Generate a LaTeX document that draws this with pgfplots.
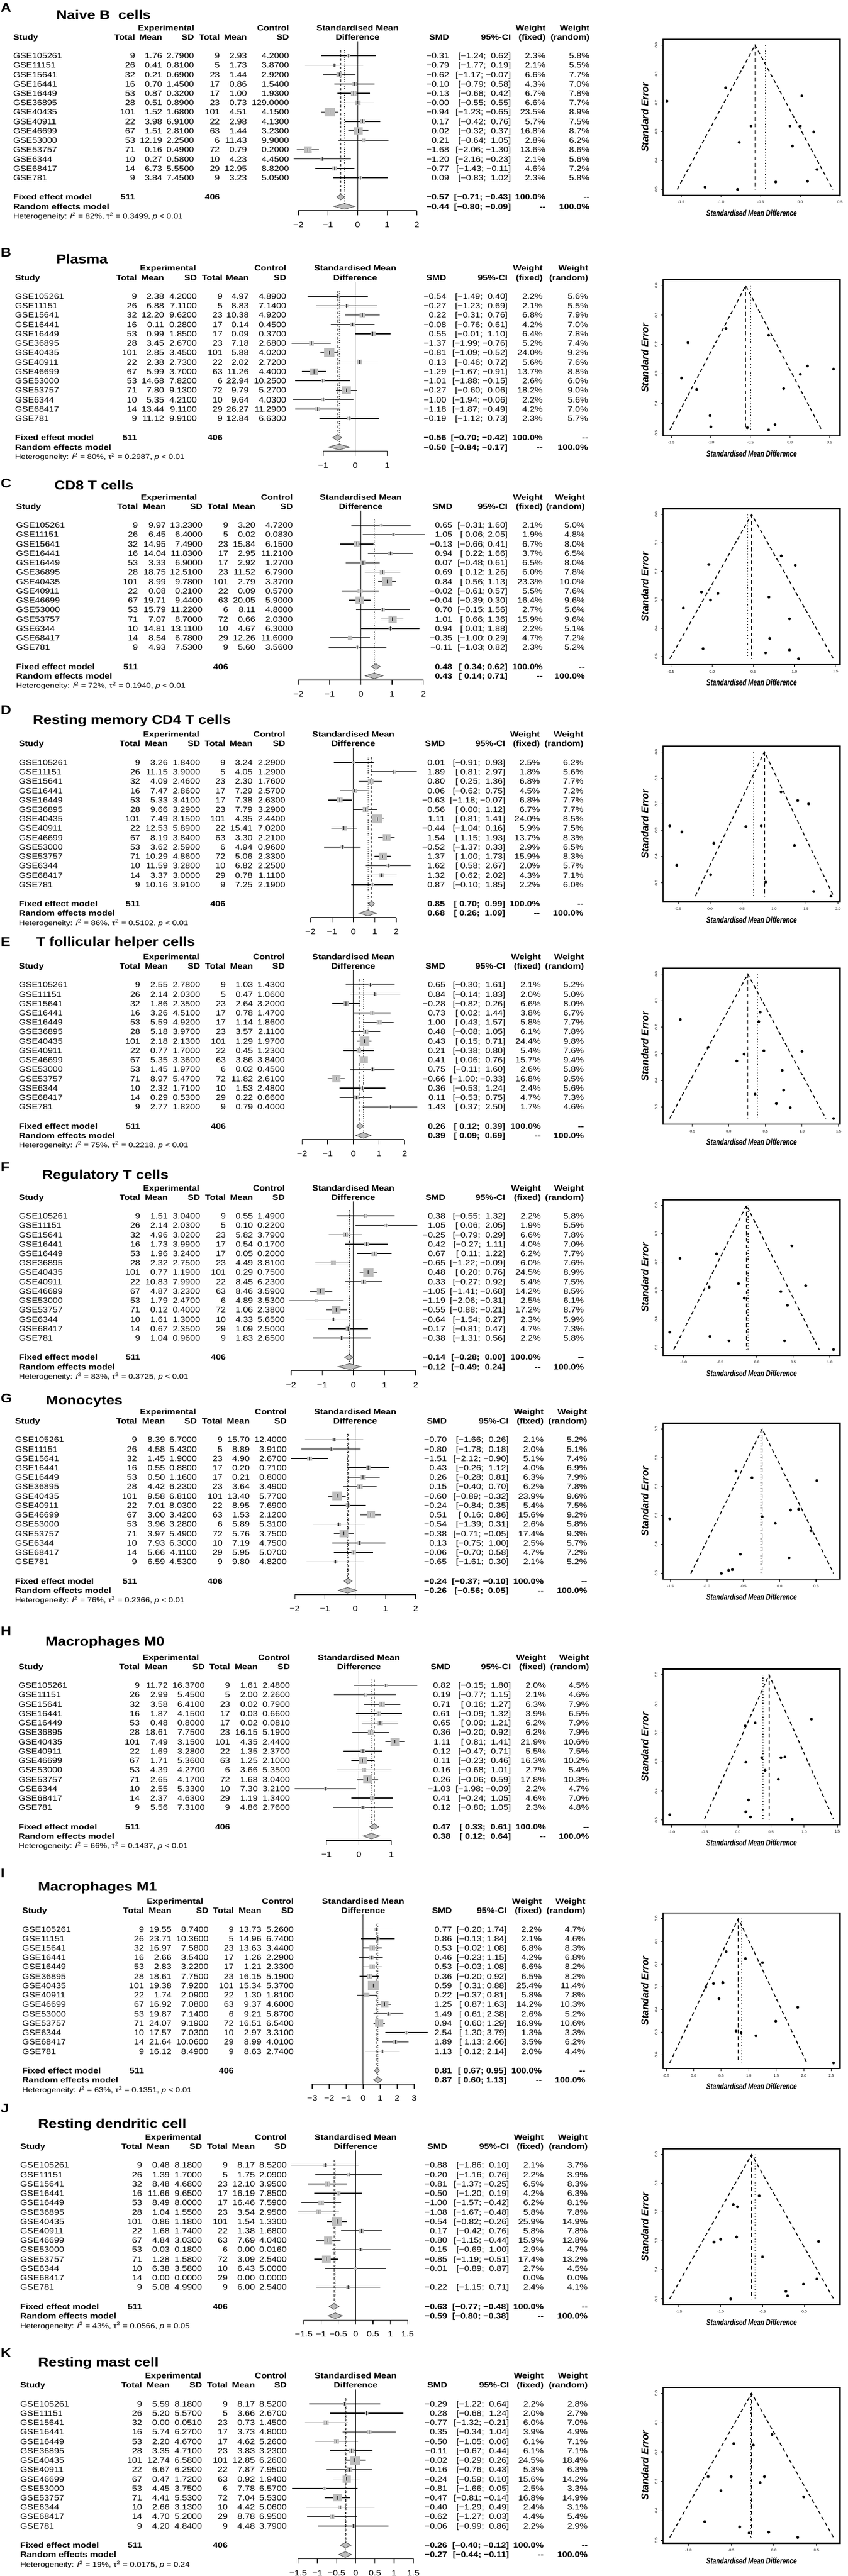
\documentclass[border=0pt]{standalone}
\usepackage{pgfplots}
\usepackage{pgfplotstable}
\pgfplotsset{compat=1.18}
\usepackage{fontspec}
\setmainfont{Liberation Sans}
\newfontfamily\wide[FakeStretch=1.16]{Liberation Sans}
\newfontfamily\narrow[FakeStretch=0.75]{Liberation Sans}

\definecolor{sqgray}{HTML}{BEBEBE}

\newcommand\rowfont{\wide\fontsize{8.25}{9.9}\selectfont}
\newcommand\hdfont{\wide\bfseries\fontsize{8.25}{9.9}\selectfont}
\newcommand\hetfont{\wide\fontsize{7.6}{9}\selectfont}
\newcommand\titfont{\wide\bfseries\fontsize{13.5}{16}\selectfont}
\newcommand\tickfont{\fontsize{4}{5}\selectfont}

% leading "-" of a value printed as a real minus; \fmtp pads positives with a space
\def\fmt#1{\expandafter\fmtA#1\relax}
\def\fmtA#1#2\relax{\ifx-#1\char"2212\relax#2\else#1#2\fi}
\def\fmtp#1{\expandafter\fmtpA#1\relax}
\def\fmtpA#1#2\relax{\ifx-#1\char"2212\relax#2\else\ #1#2\fi}
\def\fmth#1{\ifnum\padhi=1 \fmtp#1\else\fmt#1\fi}
\def\nanstr{nan}
\def\padhi{1}

\pgfplotstableread{
study n1 n2
GSE105261 9 9
GSE11151 26 5
GSE15641 32 23
GSE16441 16 17
GSE16449 53 17
GSE36895 28 23
GSE40435 101 101
GSE40911 22 22
GSE46699 67 63
GSE53000 53 6
GSE53757 71 72
GSE6344 10 10
GSE68417 14 29
GSE781 9 9
}\studies

% Naive B cells
\pgfplotstableread{
study m1 sd1 m2 sd2 smd lo hi wf wr
GSE105261 1.76 2.7900 2.93 4.2000 -0.31 -1.24 0.62 2.3 5.8
GSE11151 0.41 0.8100 1.73 3.8700 -0.79 -1.77 0.19 2.1 5.5
GSE15641 0.21 0.6900 1.44 2.9200 -0.62 -1.17 -0.07 6.6 7.7
GSE16441 0.70 1.4500 0.86 1.5400 -0.10 -0.79 0.58 4.3 7.0
GSE16449 0.87 0.3200 1.00 1.9300 -0.13 -0.68 0.42 6.7 7.8
GSE36895 0.51 0.8900 0.73 129.0000 -0.00 -0.55 0.55 6.6 7.7
GSE40435 1.52 1.6800 4.51 4.1500 -0.94 -1.23 -0.65 23.5 8.9
GSE40911 3.98 6.9100 2.98 4.1300 0.17 -0.42 0.76 5.7 7.5
GSE46699 1.51 2.8100 1.44 3.2300 0.02 -0.32 0.37 16.8 8.7
GSE53000 12.19 2.2500 11.43 9.9000 0.21 -0.64 1.05 2.8 6.2
GSE53757 0.16 0.4900 0.79 0.2000 -1.68 -2.06 -1.30 13.6 8.6
GSE6344 0.27 0.5800 4.23 4.4500 -1.20 -2.16 -0.23 2.1 5.6
GSE68417 6.73 5.5500 12.95 8.8200 -0.77 -1.43 -0.11 4.6 7.2
GSE781 3.84 7.4500 3.23 5.0500 0.09 -0.83 1.02 2.3 5.8
}\tabA

% Plasma
\pgfplotstableread{
study m1 sd1 m2 sd2 smd lo hi wf wr
GSE105261 2.38 4.2000 4.97 4.8900 -0.54 -1.49 0.40 2.2 5.6
GSE11151 6.88 7.1100 8.83 7.1400 -0.27 -1.23 0.69 2.1 5.5
GSE15641 12.20 9.6200 10.38 4.9200 0.22 -0.31 0.76 6.8 7.9
GSE16441 0.11 0.2800 0.14 0.4500 -0.08 -0.76 0.61 4.2 7.0
GSE16449 0.99 1.8500 0.09 0.3700 0.55 -0.01 1.10 6.4 7.8
GSE36895 3.45 2.6700 7.18 2.6800 -1.37 -1.99 -0.76 5.2 7.4
GSE40435 2.85 3.4500 5.88 4.0200 -0.81 -1.09 -0.52 24.0 9.2
GSE40911 2.38 2.7300 2.02 2.7200 0.13 -0.46 0.72 5.6 7.6
GSE46699 5.99 3.7000 11.26 4.4000 -1.29 -1.67 -0.91 13.7 8.8
GSE53000 14.68 7.8200 22.94 10.2500 -1.01 -1.88 -0.15 2.6 6.0
GSE53757 7.80 9.1300 9.79 5.2700 -0.27 -0.60 0.06 18.2 9.0
GSE6344 5.35 4.2100 9.64 4.0300 -1.00 -1.94 -0.06 2.2 5.6
GSE68417 13.44 9.1100 26.27 11.2900 -1.18 -1.87 -0.49 4.2 7.0
GSE781 11.12 9.9100 12.84 6.6300 -0.19 -1.12 0.73 2.3 5.7
}\tabB

% CD8 T cells
\pgfplotstableread{
study m1 sd1 m2 sd2 smd lo hi wf wr
GSE105261 9.97 13.2300 3.20 4.7200 0.65 -0.31 1.60 2.1 5.0
GSE11151 6.45 6.4000 0.02 0.0830 1.05 0.06 2.05 1.9 4.8
GSE15641 14.95 7.4900 15.84 6.1500 -0.13 -0.66 0.41 6.7 8.0
GSE16441 14.04 11.8300 2.95 11.2100 0.94 0.22 1.66 3.7 6.5
GSE16449 3.33 6.9000 2.92 1.2700 0.07 -0.48 0.61 6.5 8.0
GSE36895 18.75 12.5100 11.52 6.7900 0.69 0.12 1.26 6.0 7.8
GSE40435 8.99 9.7800 2.79 3.3700 0.84 0.56 1.13 23.3 10.0
GSE40911 0.08 0.2100 0.09 0.5700 -0.02 -0.61 0.57 5.5 7.6
GSE46699 19.71 9.4400 20.05 5.9000 -0.04 -0.39 0.30 16.4 9.6
GSE53000 15.79 11.2200 8.11 4.8000 0.70 -0.15 1.56 2.7 5.6
GSE53757 7.07 8.7000 0.66 2.0300 1.01 0.66 1.36 15.9 9.6
GSE6344 14.81 13.1100 4.67 6.3000 0.94 0.01 1.88 2.2 5.1
GSE68417 8.54 6.7800 12.26 11.6000 -0.35 -1.00 0.29 4.7 7.2
GSE781 4.93 7.5300 5.60 3.5600 -0.11 -1.03 0.82 2.3 5.2
}\tabC

% Resting memory CD4 T cells
\pgfplotstableread{
study m1 sd1 m2 sd2 smd lo hi wf wr
GSE105261 3.26 1.8400 3.24 2.2900 0.01 -0.91 0.93 2.5 6.2
GSE11151 11.15 3.9000 4.05 1.2900 1.89 0.81 2.97 1.8 5.6
GSE15641 4.09 2.4600 2.30 1.7600 0.80 0.25 1.36 6.8 7.7
GSE16441 7.47 2.8600 7.29 2.5700 0.06 -0.62 0.75 4.5 7.2
GSE16449 5.33 3.4100 7.38 2.6300 -0.63 -1.18 -0.07 6.8 7.7
GSE36895 9.66 3.2900 7.79 3.2900 0.56 0.00 1.12 6.7 7.7
GSE40435 7.49 3.1500 4.35 2.4400 1.11 0.81 1.41 24.0 8.5
GSE40911 12.53 5.8900 15.41 7.0200 -0.44 -1.04 0.16 5.9 7.5
GSE46699 8.19 3.8400 3.30 2.2100 1.54 1.15 1.93 13.7 8.3
GSE53000 3.62 2.5900 4.94 0.9600 -0.52 -1.37 0.33 2.9 6.5
GSE53757 10.29 4.8600 5.06 2.3300 1.37 1.00 1.73 15.9 8.3
GSE6344 11.59 3.2800 6.82 2.2500 1.62 0.58 2.67 2.0 5.7
GSE68417 3.37 3.0000 0.78 1.1100 1.32 0.62 2.02 4.3 7.1
GSE781 10.16 3.9100 7.25 2.1900 0.87 -0.10 1.85 2.2 6.0
}\tabD

% T follicular helper cells
\pgfplotstableread{
study m1 sd1 m2 sd2 smd lo hi wf wr
GSE105261 2.55 2.7800 1.03 1.4300 0.65 -0.30 1.61 2.1 5.2
GSE11151 2.14 2.0300 0.47 1.0600 0.84 -0.14 1.83 2.0 5.0
GSE15641 1.86 2.3500 2.64 3.2000 -0.28 -0.82 0.26 6.6 8.0
GSE16441 3.26 4.5100 0.78 1.4700 0.73 0.02 1.44 3.8 6.7
GSE16449 5.59 4.9200 1.14 1.8600 1.00 0.43 1.57 5.8 7.7
GSE36895 5.18 3.9700 3.57 2.1100 0.48 -0.08 1.05 6.1 7.8
GSE40435 2.18 2.1300 1.29 1.9700 0.43 0.15 0.71 24.4 9.8
GSE40911 0.77 1.7000 0.45 1.2300 0.21 -0.38 0.80 5.4 7.6
GSE46699 5.35 3.3600 3.86 3.8400 0.41 0.06 0.76 15.7 9.4
GSE53000 1.45 1.9700 0.02 0.4500 0.75 -0.11 1.60 2.6 5.8
GSE53757 8.97 5.4700 11.82 2.6100 -0.66 -1.00 -0.33 16.8 9.5
GSE6344 2.32 1.7100 1.53 2.4800 0.36 -0.53 1.24 2.4 5.6
GSE68417 0.29 0.5300 0.22 0.6600 0.11 -0.53 0.75 4.7 7.3
GSE781 2.77 1.8200 0.79 0.4000 1.43 0.37 2.50 1.7 4.6
}\tabE

% Regulatory T cells
\pgfplotstableread{
study m1 sd1 m2 sd2 smd lo hi wf wr
GSE105261 1.51 3.0400 0.55 1.4900 0.38 -0.55 1.32 2.2 5.8
GSE11151 2.14 2.0300 0.10 0.2200 1.05 0.06 2.05 1.9 5.5
GSE15641 4.96 3.0200 5.82 3.7900 -0.25 -0.79 0.29 6.6 7.8
GSE16441 1.73 3.9900 0.54 0.1700 0.42 -0.27 1.11 4.0 7.0
GSE16449 1.96 3.2400 0.05 0.2000 0.67 0.11 1.22 6.2 7.7
GSE36895 2.32 2.7500 4.49 3.8100 -0.65 -1.22 -0.09 6.0 7.6
GSE40435 0.77 1.1900 0.29 0.7500 0.48 0.20 0.76 24.5 8.9
GSE40911 10.83 7.9900 8.45 6.2300 0.33 -0.27 0.92 5.4 7.5
GSE46699 4.87 3.2300 8.46 3.5900 -1.05 -1.41 -0.68 14.2 8.5
GSE53000 1.79 2.4700 4.89 3.5300 -1.19 -2.06 -0.31 2.5 6.1
GSE53757 0.12 0.4000 1.06 2.3800 -0.55 -0.88 -0.21 17.2 8.7
GSE6344 1.61 1.3000 4.33 5.6500 -0.64 -1.54 0.27 2.3 5.9
GSE68417 0.67 2.3500 1.09 2.5000 -0.17 -0.81 0.47 4.7 7.3
GSE781 1.04 0.9600 1.83 2.6500 -0.38 -1.31 0.56 2.2 5.8
}\tabF

% Monocytes
\pgfplotstableread{
study m1 sd1 m2 sd2 smd lo hi wf wr
GSE105261 8.39 6.7000 15.70 12.4000 -0.70 -1.66 0.26 2.1 5.2
GSE11151 4.58 5.4300 8.89 3.9100 -0.80 -1.78 0.18 2.0 5.1
GSE15641 1.45 1.9000 4.90 2.6700 -1.51 -2.12 -0.90 5.1 7.4
GSE16441 0.55 0.8800 0.20 0.7100 0.43 -0.26 1.12 4.0 6.9
GSE16449 0.50 1.1600 0.21 0.8000 0.26 -0.28 0.81 6.3 7.9
GSE36895 4.42 6.2300 3.64 3.4900 0.15 -0.40 0.70 6.2 7.8
GSE40435 9.58 6.8100 13.40 5.7700 -0.60 -0.89 -0.32 23.9 9.6
GSE40911 7.01 8.0300 8.95 7.6900 -0.24 -0.84 0.35 5.4 7.5
GSE46699 3.00 3.4200 1.53 2.1200 0.51 0.16 0.86 15.6 9.2
GSE53000 3.96 3.2800 5.89 5.3100 -0.54 -1.39 0.31 2.6 5.8
GSE53757 3.97 5.4900 5.76 3.7500 -0.38 -0.71 -0.05 17.4 9.3
GSE6344 7.93 6.3000 7.19 4.7500 0.13 -0.75 1.00 2.5 5.7
GSE68417 5.66 4.1100 5.95 5.0700 -0.06 -0.70 0.58 4.7 7.2
GSE781 6.59 4.5300 9.80 4.8200 -0.65 -1.61 0.30 2.1 5.2
}\tabG

% Macrophages M0
\pgfplotstableread{
study m1 sd1 m2 sd2 smd lo hi wf wr
GSE105261 11.72 16.3700 1.61 2.4800 0.82 -0.15 1.80 2.0 4.5
GSE11151 2.99 5.4500 2.00 2.2600 0.19 -0.77 1.15 2.1 4.6
GSE15641 3.58 6.4100 0.02 0.7900 0.71 0.16 1.27 6.3 7.9
GSE16441 1.87 4.1500 0.03 0.6600 0.61 -0.09 1.32 3.9 6.5
GSE16449 0.48 0.8000 0.02 0.0810 0.65 0.09 1.21 6.2 7.9
GSE36895 18.61 7.7500 16.15 5.1900 0.36 -0.20 0.92 6.2 7.9
GSE40435 7.49 3.1500 4.35 2.4400 1.11 0.81 1.41 21.9 10.6
GSE40911 1.69 3.2800 1.35 2.3700 0.12 -0.47 0.71 5.5 7.5
GSE46699 1.71 5.3600 1.25 2.1000 0.11 -0.23 0.46 16.3 10.2
GSE53000 4.39 4.2700 3.66 5.3500 0.16 -0.68 1.01 2.7 5.4
GSE53757 2.65 4.1700 1.68 3.0400 0.26 -0.06 0.59 17.8 10.3
GSE6344 2.55 5.3300 7.30 3.2100 -1.03 -1.98 -0.09 2.2 4.7
GSE68417 2.37 4.6300 1.19 1.3400 0.41 -0.24 1.05 4.6 7.0
GSE781 5.56 7.3100 4.86 2.7600 0.12 -0.80 1.05 2.3 4.8
}\tabH

% Macrophages M1
\pgfplotstableread{
study m1 sd1 m2 sd2 smd lo hi wf wr
GSE105261 19.55 8.7400 13.73 5.2600 0.77 -0.20 1.74 2.2 4.7
GSE11151 23.71 10.3600 14.96 6.7400 0.86 -0.13 1.84 2.1 4.6
GSE15641 16.97 7.5800 13.63 3.4400 0.53 -0.02 1.08 6.8 8.3
GSE16441 2.66 3.5400 1.26 2.2900 0.46 -0.23 1.15 4.2 6.8
GSE16449 2.83 3.2200 1.21 2.3300 0.53 -0.03 1.08 6.6 8.2
GSE36895 18.61 7.7500 16.15 5.1900 0.36 -0.20 0.92 6.5 8.2
GSE40435 19.38 7.9200 15.34 5.3700 0.59 0.31 0.88 25.4 11.4
GSE40911 1.74 2.0900 1.30 1.8100 0.22 -0.37 0.81 5.8 7.8
GSE46699 16.92 7.0800 9.37 4.6000 1.25 0.87 1.63 14.2 10.3
GSE53000 19.87 7.1400 9.21 5.8700 1.49 0.61 2.38 2.6 5.2
GSE53757 24.07 9.1900 16.51 6.5400 0.94 0.60 1.29 16.9 10.6
GSE6344 17.57 7.0300 2.97 3.3100 2.54 1.30 3.79 1.3 3.3
GSE68417 21.64 10.0600 8.99 4.0100 1.89 1.13 2.66 3.5 6.2
GSE781 16.12 8.4900 8.63 2.7400 1.13 0.12 2.14 2.0 4.4
}\tabI

% Resting dendritic cell
\pgfplotstableread{
study m1 sd1 m2 sd2 smd lo hi wf wr
GSE105261 0.48 8.1800 8.17 8.5200 -0.88 -1.86 0.10 2.1 3.7
GSE11151 1.39 1.7000 1.75 2.0900 -0.20 -1.16 0.76 2.2 3.9
GSE15641 8.48 4.6800 12.10 3.9500 -0.81 -1.37 -0.25 6.5 8.3
GSE16441 11.66 9.6500 16.19 7.8500 -0.50 -1.20 0.19 4.2 6.3
GSE16449 8.49 8.0000 16.46 7.5900 -1.00 -1.57 -0.42 6.2 8.1
GSE36895 1.04 1.5500 3.54 2.9500 -1.08 -1.67 -0.48 5.8 7.8
GSE40435 0.86 1.1800 1.54 1.3300 -0.54 -0.82 -0.26 25.9 14.9
GSE40911 1.68 1.7400 1.38 1.6800 0.17 -0.42 0.76 5.8 7.8
GSE46699 4.84 3.0300 7.69 4.0400 -0.80 -1.15 -0.44 15.9 12.8
GSE53000 0.03 0.1800 0.00 0.0160 0.15 -0.69 1.00 2.9 4.7
GSE53757 1.28 1.5800 3.09 2.5400 -0.85 -1.19 -0.51 17.4 13.2
GSE6344 6.38 3.5800 6.43 5.0000 -0.01 -0.89 0.87 2.7 4.5
GSE68417 0.00 0.0000 0.00 0.0000 nan nan nan 0.0 0.0
GSE781 5.08 4.9900 6.00 2.5400 -0.22 -1.15 0.71 2.4 4.1
}\tabJ

% Resting mast cell
\pgfplotstableread{
study m1 sd1 m2 sd2 smd lo hi wf wr
GSE105261 5.59 8.1800 8.17 8.5200 -0.29 -1.22 0.64 2.2 2.8
GSE11151 5.20 5.5700 3.66 2.6700 0.28 -0.68 1.24 2.0 2.7
GSE15641 0.00 0.0510 0.73 1.4500 -0.77 -1.32 -0.21 6.0 7.0
GSE16441 5.74 6.2700 3.73 4.8000 0.35 -0.34 1.04 3.9 4.9
GSE16449 2.20 4.6700 4.62 5.2600 -0.50 -1.05 0.06 6.1 7.1
GSE36895 3.35 4.7100 3.83 3.2300 -0.11 -0.67 0.44 6.1 7.1
GSE40435 12.74 6.5800 12.85 6.2600 -0.02 -0.29 0.26 24.5 18.4
GSE40911 6.67 6.2900 7.87 7.9500 -0.16 -0.76 0.43 5.3 6.3
GSE46699 0.47 1.7200 0.92 1.9400 -0.24 -0.59 0.10 15.6 14.2
GSE53000 4.45 3.7500 7.78 6.5700 -0.81 -1.66 0.05 2.5 3.3
GSE53757 4.41 5.5300 7.04 5.5300 -0.47 -0.81 -0.14 16.8 14.9
GSE6344 2.66 3.1300 4.42 5.0600 -0.40 -1.29 0.49 2.4 3.1
GSE68417 4.70 5.2000 8.78 6.9500 -0.62 -1.27 0.03 4.4 5.4
GSE781 4.20 4.8400 4.48 3.7900 -0.06 -0.99 0.86 2.2 2.9
}\tabK

% panel settings (pixel positions of the reference)
\newcommand\setcols[7]{\def\xS{#1}\def\xNa{#2}\def\xMa{#3}\def\xSa{#4}\def\xNb{#5}\def\xMb{#6}\def\xSb{#7}}
\newcommand\setcolsR[4]{\def\xSMD{#1}\def\xCI{#2}\def\xWF{#3}\def\xWR{#4}}
\newcommand\setforest[5]{\def\fz{#1}\def\fu{#2}\def\fx{#3}\def\ftk{#4}\def\ftl{#5}}
\newcommand\setsum[6]{\def\fe{#1}\def\fl{#2}\def\fh{#3}\def\re{#4}\def\rl{#5}\def\rh{#6}}
\newcommand\sethet[3]{\def\hI{#1}\def\hT{#2}\def\hP{#3}}
\newcommand\setfun[7]{\def\uxa{#1}\def\uxb{#2}\def\use{#3}\def\utk{#4}\def\uL{#5}\def\uR{#6}\def\ufy{#7}}
\def\uyt{-0.5,-0.4,-0.3,-0.2,-0.1,0}
\def\uytl{0.5,0.4,0.3,0.2,0.1,0.0}

\newcommand\drawpanel[1]{%
\begin{scope}[x=0.5pt,y=-0.5pt,every node/.style={inner sep=0pt}]
  \node[anchor=west,font=\titfont] at (1,\pLy) {\pL};
  \node[anchor=west,font=\titfont] at (\pTx,\pTy) {\pT};
  \pgfmathsetmacro\ya{\pR-54}\pgfmathsetmacro\yh{\pR-34}%
  \pgfmathsetmacro\yf{\pR+308}\pgfmathsetmacro\yr{\pR+328}%
  \begin{scope}[every node/.append style={font=\hdfont}]
    \node[anchor=base] at (\xNa+66,\ya) {Experimental};
    \node[anchor=base east] at (\xSb,\ya) {Control};
    \node[anchor=base] at (\fz,\ya) {Standardised Mean};
    \node[anchor=base east] at (\xWF,\ya) {Weight};
    \node[anchor=base east] at (\xWR,\ya) {Weight};
    \node[anchor=base west] at (\xS,\yh) {Study};
    \node[anchor=base east] at (\xNa,\yh) {Total};
    \node[anchor=base east] at (\xMa,\yh) {Mean};
    \node[anchor=base east] at (\xSa,\yh) {SD};
    \node[anchor=base east] at (\xNb,\yh) {Total};
    \node[anchor=base east] at (\xMb,\yh) {Mean};
    \node[anchor=base east] at (\xSb,\yh) {SD};
    \node[anchor=base] at (\fz,\yh) {Difference};
    \node[anchor=base east] at (\xSMD,\yh) {SMD};
    \node[anchor=base east] at (\xCI,\yh) {95\%-CI};
    \node[anchor=base east] at (\xWF,\yh) {(fixed)};
    \node[anchor=base east] at (\xWR,\yh) {(random)};
    \node[anchor=base west] at (\xS,\yf) {Fixed effect model};
    \node[anchor=base east] at (\xNa,\yf) {511};
    \node[anchor=base east] at (\xNb,\yf) {406};
    \node[anchor=base east] at (\xSMD,\yf) {\fmt\fe};
    \node[anchor=base east] at (\xCI,\yf) {[\fmtp\fl;\ \fmth\fh]};
    \node[anchor=base east] at (\xWF,\yf) {100.0\%};
    \node[anchor=base east] at (\xWR,\yf) {-{}-};
    \node[anchor=base west] at (\xS,\yr) {Random effects model};
    \node[anchor=base east] at (\xSMD,\yr) {\fmt\re};
    \node[anchor=base east] at (\xCI,\yr) {[\fmtp\rl;\ \fmth\rh]};
    \node[anchor=base east] at (\xWF,\yr) {-{}-};
    \node[anchor=base east] at (\xWR,\yr) {100.0\%};
  \end{scope}
  \node[anchor=base west,font=\hetfont] at (\xS,\pR+348.5)
    {Heterogeneity: \textit{I}\textsuperscript{2} = \hI\%, τ\textsuperscript{2} = \hT, \textit{p} \hP};
  \begin{scope}[every node/.append style={font=\rowfont}]
    \foreach \i in {0,...,13}{%
      \pgfmathsetmacro\yb{\pR+\i*20.07+6}%
      \pgfplotstablegetelem{\i}{study}\of#1
      \node[anchor=base west] at (\xS,\yb) {\pgfplotsretval};
      \pgfplotstablegetelem{\i}{n1}\of\studies
      \node[anchor=base east] at (\xNa,\yb) {\pgfplotsretval};
      \pgfplotstablegetelem{\i}{m1}\of#1
      \node[anchor=base east] at (\xMa,\yb) {\pgfplotsretval};
      \pgfplotstablegetelem{\i}{sd1}\of#1
      \node[anchor=base east] at (\xSa,\yb) {\pgfplotsretval};
      \pgfplotstablegetelem{\i}{n2}\of\studies
      \node[anchor=base east] at (\xNb,\yb) {\pgfplotsretval};
      \pgfplotstablegetelem{\i}{m2}\of#1
      \node[anchor=base east] at (\xMb,\yb) {\pgfplotsretval};
      \pgfplotstablegetelem{\i}{sd2}\of#1
      \node[anchor=base east] at (\xSb,\yb) {\pgfplotsretval};
      \pgfplotstablegetelem{\i}{wf}\of#1
      \node[anchor=base east] at (\xWF,\yb) {\pgfplotsretval\%};
      \pgfplotstablegetelem{\i}{wr}\of#1
      \node[anchor=base east] at (\xWR,\yb) {\pgfplotsretval\%};
      \pgfplotstablegetelem{\i}{lo}\of#1 \edef\cilo{\pgfplotsretval}%
      \pgfplotstablegetelem{\i}{hi}\of#1 \edef\cihi{\pgfplotsretval}%
      \pgfplotstablegetelem{\i}{smd}\of#1 \edef\smv{\pgfplotsretval}%
      \ifx\smv\nanstr\else
        \node[anchor=base east] at (\xSMD,\yb) {\fmt\smv};
        \node[anchor=base east] at (\xCI,\yb) {[\fmtp\cilo;\ \fmth\cihi]};
      \fi
    }
  \end{scope}
\end{scope}
% forest plot
\pgfmathsetmacro\fux{\fu*0.5}%
\pgfmathsetmacro\fax{(\fz-\fx*\fu)*0.5}%
\pgfmathsetmacro\fay{-(\pR+331)*0.5}%
\begin{axis}[
  anchor=south west, at={(\fax pt,\fay pt)},
  x=\fux pt, y=10.035pt,
  xmin=-\fx, xmax=\fx, ymin=-16.49, ymax=1.55,
  axis x line=bottom, axis y line=none, ytick=\empty,
  axis line style={-, line width=0.7pt},
  xtick/.expanded={\ftk}, xticklabels/.expanded={\ftl},
  tick align=outside, major tick length=5pt,
  tick style={line width=0.7pt, black},
  xticklabel style={font=\rowfont, anchor=base, yshift=-13pt, inner sep=0pt},
  clip=false,
]
  \addplot[black, line width=0.5pt] coordinates {(0,1.55) (0,-16.49)};
  \addplot[black, line width=0.5pt, dash pattern=on 2.5pt off 2pt]
    coordinates {(\fe,0.6) (\fe,-14.75)};
  \addplot[black, line width=0.5pt, dash pattern=on 0.8pt off 1.6pt]
    coordinates {(\re,0.6) (\re,-15.74)};
  \addplot[scatter, only marks, mark=square*, point meta=\thisrow{wf},
    scatter/use mapped color={draw=sqgray, fill=sqgray},
    visualization depends on={0.9*sqrt(\thisrow{wf}) \as \msz},
    scatter/@pre marker code/.append style={/tikz/mark size=\msz},
    mark options={xscale=1.16}]
    table[x=smd, y expr=-\coordindex] {#1};
  \addplot[quiver={u=\thisrow{hi}-\thisrow{lo}, v=0}, -, black, line width=0.8pt]
    table[x=lo, y expr=-\coordindex] {#1};
  \addplot[only marks, mark=|, mark size=2pt, mark options={line width=0.5pt, black}]
    table[x=smd, y expr=-\coordindex] {#1};
  \addplot[fill=sqgray, draw=black!70, line width=0.5pt]
    coordinates {(\fl,-15.05) (\fe,-14.75) (\fh,-15.05) (\fe,-15.35)} -- cycle;
  \addplot[fill=sqgray, draw=black!70, line width=0.5pt]
    coordinates {(\rl,-16.04) (\re,-15.74) (\rh,-16.04) (\re,-16.34)} -- cycle;
\end{axis}
% funnel plot
\begin{axis}[
  anchor=north west, at={(708.5pt,{-\ufy*0.5pt})},
  scale only axis, width=189pt, height=166.5pt,
  xmin=\uxa, xmax=\uxb, ymin={-1.04*\use}, ymax={0.04*\use},
  axis line style={line width=1.3pt},
  tick pos=left, tick align=outside, major tick length=2.5pt,
  tick style={line width=0.6pt, black},
  xtick/.expanded={\utk}, ytick/.expanded={\uyt}, yticklabels/.expanded={\uytl},
  /pgf/number format/fixed, /pgf/number format/fixed zerofill,
  /pgf/number format/precision=1, /pgf/number format/assume math mode=true,
  ticklabel style={font=\tickfont}, yticklabel style={rotate=90, anchor=south},
  xlabel={Standardised Mean Difference}, ylabel={Standard Error},
  xlabel style={font=\narrow\bfseries\itshape\fontsize{9}{10}\selectfont},
  ylabel style={font=\bfseries\itshape\fontsize{10.5}{12}\selectfont},
  clip=false,
]
  \addplot[black, line width=1pt, dash pattern=on 4pt off 3pt]
    coordinates {(\uL,-\use) (\fe,0) (\uR,-\use)};
  \addplot[black, line width=1pt, dash pattern=on 4pt off 3pt]
    coordinates {(\fe,0) (\fe,-\use)};
  \addplot[black, line width=1pt, dash pattern=on 0.8pt off 2.2pt]
    coordinates {(\re,0) (\re,-\use)};
  \addplot[only marks, mark=*, mark size=1.3pt, black]
    table[x=smd, y expr=-(\thisrow{hi}-\thisrow{lo})/3.92] {#1};
\end{axis}
}

\begin{document}
\begin{tikzpicture}
\path[use as bounding box] (0,0) rectangle (905.5pt,-2752pt);

\def\pL{A}\def\pT{Naive B\ \ cells}\def\pLy{17}\def\pTx{120}\def\pTy{32}\def\pR{119}
\setcols{28}{289}{347}{415}{470}{528}{618}\setcolsR{960}{1092}{1166}{1260}
\setforest{764}{63.3}{2}{-2,-1,0,1,2}{−2,−1,0,1,2}
\setsum{-0.57}{-0.71}{-0.43}{-0.44}{-0.80}{-0.09}
\sethet{82}{0.3499}{< 0.01}
\setfun{-1.727}{0.501}{0.5}{-1.5,-1,-0.5,0,0.5}{-1.55}{0.41}{84}
\drawpanel{\tabA}

\def\pL{B}\def\pT{Plasma}\def\pLy{540}\def\pTx{120}\def\pTy{553}\def\pR{633}
\setcols{32}{293}{351}{421}{476}{532}{612}\setcolsR{954}{1085}{1160}{1257}
\setforest{759}{68.5}{1}{-1,0,1}{−1,0,1}
\setsum{-0.56}{-0.70}{-0.42}{-0.50}{-0.84}{-0.17}
\sethet{80}{0.2987}{< 0.01}
\setfun{-1.603}{0.633}{0.490}{-1.5,-1,-0.5,0,0.5}{-1.52}{0.40}{598}
\drawpanel{\tabB}

\def\padhi{0}
\def\pL{C}\def\pT{CD8 T cells}\def\pLy{1033}\def\pTx{116}\def\pTy{1037}\def\pR{1122}
\setcols{34}{295}{355}{433}{488}{546}{626}\setcolsR{967}{1085}{1160}{1250}
\setforest{771}{66.7}{2}{-2,-1,0,1,2}{−2,−1,0,1,2}
\setsum{0.48}{0.34}{0.62}{0.43}{0.14}{0.71}
\sethet{72}{0.1940}{< 0.01}
\setfun{-0.595}{1.555}{0.508}{-0.5,0,0.5,1,1.5}{-0.515}{1.475}{1087}
\drawpanel{\tabC}
\def\padhi{1}

\def\pL{D}\def\pT{Resting memory CD4 T cells}\def\pLy{1517}\def\pTx{70}\def\pTy{1540}\def\pR{1629}
\setcols{40}{300}{359}{428}{482}{540}{610}\setcolsR{951}{1080}{1154}{1247}
\setforest{755}{45.8}{2}{-2,-1,0,1,2}{−2,−1,0,1,2}
\setsum{0.85}{0.70}{0.99}{0.68}{0.26}{1.09}
\sethet{86}{0.5102}{< 0.01}
\setfun{-0.732}{2.032}{0.551}{-0.5,0,0.5,1,1.5,2}{-0.23}{1.93}{1594}
\drawpanel{\tabD}

\def\pL{E}\def\pT{T follicular helper cells}\def\pLy{2012}\def\pTx{77}\def\pTy{2015}\def\pR{2104}
\setcols{40}{300}{359}{428}{483}{541}{609}\setcolsR{952}{1080}{1156}{1248}
\setforest{755}{54.8}{2}{-2,-1,0,1,2}{−2,−1,0,1,2}
\setsum{0.26}{0.12}{0.39}{0.39}{0.09}{0.69}
\sethet{75}{0.2218}{< 0.01}
\setfun{-0.893}{1.519}{0.543}{-0.5,0,0.5,1,1.5}{-0.804}{1.324}{2069}
\drawpanel{\tabE}

\def\pL{F}\def\pT{Regulatory T cells}\def\pLy{2493}\def\pTx{90}\def\pTy{2512}\def\pR{2598}
\setcols{40}{300}{359}{428}{483}{541}{609}\setcolsR{952}{1080}{1156}{1248}
\setforest{755}{66.6}{2}{-2,-1,0,1,2}{−2,−1,0,1,2}
\setsum{-0.14}{-0.28}{0.00}{-0.12}{-0.49}{0.24}
\sethet{83}{0.3725}{< 0.01}
\setfun{-1.28}{1.14}{0.508}{-1,-0.5,0,0.5,1}{-1.135}{0.855}{2563}
\drawpanel{\tabF}

\def\pL{G}\def\pT{Monocytes}\def\pLy{2988}\def\pTx{98}\def\pTy{2995}\def\pR{3076}
\setcols{32}{293}{353}{421}{476}{534}{613}\setcolsR{955}{1087}{1162}{1255}
\setforest{759}{64.6}{2}{-2,-1,0,1,2}{−2,−1,0,1,2}
\setsum{-0.24}{-0.37}{-0.10}{-0.26}{-0.56}{0.05}
\sethet{76}{0.2366}{< 0.01}
\setfun{-1.60}{0.83}{0.5}{-1.5,-1,-0.5,0,0.5}{-1.22}{0.74}{3041}
\drawpanel{\tabG}

\def\pL{H}\def\pT{Macrophages M0}\def\pLy{3485}\def\pTx{97}\def\pTy{3510}\def\pR{3601}
\setcols{39}{299}{359}{438}{492}{551}{620}\setcolsR{963}{1092}{1167}{1259}
\setforest{767}{69.4}{1}{-1,0,1}{−1,0,1}
\setsum{0.47}{0.33}{0.61}{0.38}{0.12}{0.64}
\sethet{66}{0.1437}{< 0.01}
\setfun{-1.129}{1.543}{0.497}{-1,-0.5,0,0.5,1,1.5}{-0.504}{1.444}{3566}
\drawpanel{\tabH}

\def\padhi{0}
\def\pL{I}\def\pT{Macrophages M1}\def\pLy{4003}\def\pTx{81}\def\pTy{4033}\def\pR{4122}
\setcols{47}{308}{367}{446}{500}{559}{628}\setcolsR{966}{1083}{1158}{1251}
\setforest{776}{36.3}{3}{-3,-2,-1,0,1,2,3}{−3,−2,−1,0,1,2,3}
\setsum{0.81}{0.67}{0.95}{0.87}{0.60}{1.13}
\sethet{63}{0.1351}{< 0.01}
\setfun{-0.554}{2.659}{0.635}{-0.5,0,0.5,1,1.5,2,2.5}{-0.435}{2.055}{4087}
\def\uyt{-0.6,-0.5,-0.4,-0.3,-0.2,-0.1,0}\def\uytl{0.6,0.5,0.4,0.3,0.2,0.1,0.0}
\drawpanel{\tabI}
\def\uyt{-0.5,-0.4,-0.3,-0.2,-0.1,0}\def\uytl{0.5,0.4,0.3,0.2,0.1,0.0}
\def\padhi{1}

\def\pL{J}\def\pT{Resting dendritic cell}\def\pLy{4505}\def\pTx{81}\def\pTy{4540}\def\pR{4626}
\setcols{43}{304}{363}{432}{487}{545}{613}\setcolsR{956}{1088}{1162}{1256}
\setforest{760}{74}{1.5}{-1.5,-1,-0.5,0,0.5,1,1.5}{−1.5,−1,−0.5,0,0.5,1,1.5}
\setsum{-0.63}{-0.77}{-0.48}{-0.59}{-0.80}{-0.38}
\sethet{43}{0.0566}{= 0.05}
\setfun{-1.688}{0.428}{0.5}{-1.5,-1,-0.5,0}{-1.61}{0.35}{4591}
\drawpanel{\tabJ}

\def\pL{K}\def\pT{Resting mast cell}\def\pLy{5027}\def\pTx{81}\def\pTy{5050}\def\pR{5136}
\setcols{43}{304}{363}{432}{487}{545}{613}\setcolsR{956}{1088}{1162}{1256}
\setforest{760}{82}{1.5}{-1.5,-1,-0.5,0,0.5,1,1.5}{−1.5,−1,−0.5,0,0.5,1,1.5}
\setsum{-0.26}{-0.40}{-0.12}{-0.27}{-0.44}{-0.11}
\sethet{19}{0.0175}{= 0.24}
\setfun{-1.297}{0.777}{0.49}{-1,-0.5,0,0.5}{-1.22}{0.70}{5101}
\drawpanel{\tabK}

\end{tikzpicture}
\end{document}
